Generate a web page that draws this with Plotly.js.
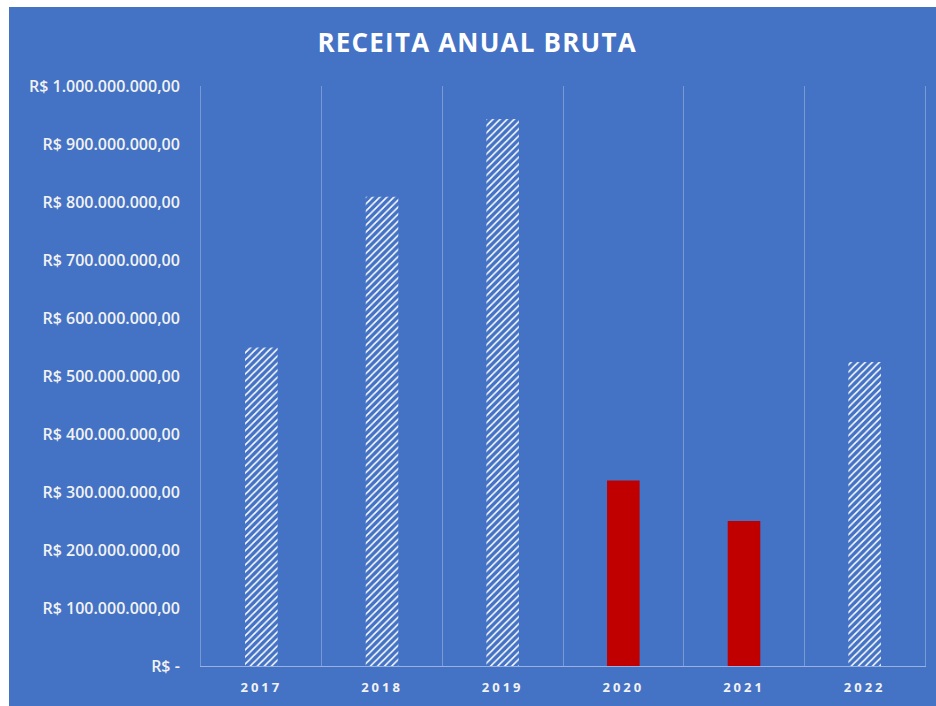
<!DOCTYPE html>
<html>
<head>
<meta charset="utf-8">
<script src="https://cdn.plot.ly/plotly-3.0.1.min.js"></script>
<style>
  html, body { margin: 0; padding: 0; background: #ffffff; }
  #chart { position: absolute; left: 9px; top: 7px; width: 927px; height: 699px; }
  .xtick text { letter-spacing: 3px; }
  .gtitle { letter-spacing: 1.2px; }
</style>
</head>
<body>
<div id="chart"></div>
<script>
// Data
const years = ['2017', '2018', '2019', '2020', '2021', '2022'];
const revenue = [549000000, 809000000, 943000000, 320000000, 250000000, 524000000];
const highlightYears = ['2020', '2021'];
const yTickVals = [0, 100000000, 200000000, 300000000, 400000000, 500000000, 600000000, 700000000, 800000000, 900000000, 1000000000];
const yTickText = ['R$ -', 'R$ 100.000.000,00', 'R$ 200.000.000,00', 'R$ 300.000.000,00', 'R$ 400.000.000,00', 'R$ 500.000.000,00', 'R$ 600.000.000,00', 'R$ 700.000.000,00', 'R$ 800.000.000,00', 'R$ 900.000.000,00', 'R$ 1.000.000.000,00'];

const BG = '#4472C4';
const GRID = 'rgba(255,255,255,0.28)';
const isHi = years.map(y => highlightYears.includes(y));

const trace = {
  type: 'bar',
  x: years,
  y: revenue,
  width: 0.27,
  marker: {
    color: isHi.map(h => h ? '#C00000' : '#FFFFFF'),
    line: { width: 0 },
    pattern: {
      shape: isHi.map(h => h ? '' : '/'),
      fillmode: 'replace',
      bgcolor: isHi.map(h => h ? '#C00000' : '#FFFFFF'),
      fgcolor: isHi.map(h => h ? '#C00000' : BG),
      size: 5,
      solidity: 0.3
    }
  },
  hoverinfo: 'none'
};

const layout = {
  width: 927,
  height: 699,
  paper_bgcolor: BG,
  plot_bgcolor: BG,
  margin: { l: 192, r: 11, t: 79, b: 40 },
  showlegend: false,
  title: {
    text: '<b>RECEITA ANUAL BRUTA</b>',
    font: { family: 'Open Sans', size: 26, color: '#FFFFFF' },
    x: 0.505, xanchor: 'center',
    y: 0.948, yanchor: 'middle',
    xref: 'container', yref: 'container'
  },
  xaxis: {
    type: 'category',
    range: [-0.5, 5.5],
    tickson: 'boundaries',
    showgrid: true,
    gridcolor: GRID,
    gridwidth: 1,
    showline: true,
    linecolor: 'rgba(255,255,255,0.45)',
    linewidth: 1,
    ticks: '',
    tickfont: { family: 'Open Sans', size: 13, color: '#F2F2F2', weight: 'bold' },
    ticklabelstandoff: 9,
    zeroline: false,
    fixedrange: true
  },
  yaxis: {
    range: [0, 1000000000],
    tickvals: yTickVals,
    ticktext: yTickText,
    showgrid: false,
    zeroline: false,
    showline: true,
    mirror: true,
    linecolor: GRID,
    linewidth: 1,
    ticks: '',
    ticklabelstandoff: 17,
    tickfont: { family: 'Open Sans', size: 16, color: '#F2F2F2', weight: 600 },
    fixedrange: true
  }
};

Plotly.newPlot('chart', [trace], layout, { displayModeBar: false, staticPlot: true });
</script>
</body>
</html>
